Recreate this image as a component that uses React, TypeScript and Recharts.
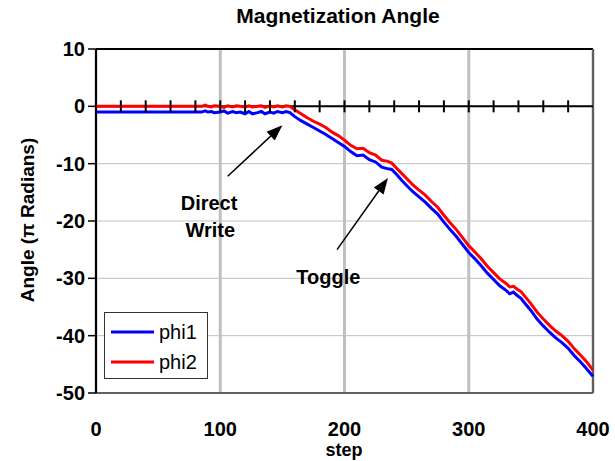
import React from "react"
import {
  ComposedChart,
  Line,
  Scatter,
  XAxis,
  YAxis,
  CartesianGrid,
  ReferenceLine,
  ReferenceDot,
  Legend,
} from "recharts"

const steps = [
  0, 20, 40, 60, 80, 85, 88, 90, 93, 95, 100, 103, 106, 110, 113, 116, 120, 123, 126, 130,
  133, 136, 140, 143, 146, 150, 153, 156, 160, 165, 170, 175, 180, 185, 190, 195, 200, 205, 210, 215,
  220, 225, 230, 235, 238, 242, 246, 250, 255, 260, 265, 270, 275, 280, 285, 290, 295, 300, 305, 310,
  315, 320, 325, 330, 333, 336, 339, 342, 345, 350, 355, 360, 365, 370, 375, 380, 385, 390, 395, 400,
]

const phi1 = [
  -1, -1, -1, -1, -1, -1, -0.8, -1, -0.9, -1.1, -1, -0.8, -1.2, -0.9, -1.1, -1, -1.3, -0.9, -1.3, -1.1,
  -0.9, -1.3, -1, -1.2, -0.9, -1.1, -0.9, -1.1, -1.8, -2.5, -3.1, -3.7, -4.3, -4.9, -5.6, -6.3, -7.0, -7.9, -8.6, -8.5,
  -9.3, -9.7, -10.6, -10.9, -11.0, -11.9, -12.9, -13.8, -14.9, -15.8, -16.7, -17.8, -18.8, -20.2, -21.5, -22.7, -24.1, -25.5, -26.6, -27.8,
  -29.1, -30.2, -31.3, -32.1, -32.7, -32.4, -33.0, -33.5, -34.3, -35.6, -37.1, -38.3, -39.4, -40.4, -41.2, -42.2, -43.5, -44.6, -45.8, -47.1,
]

const phi2 = [
  0, 0, 0, 0, 0, 0, 0.2, 0, -0.1, 0.1, 0, -0.2, 0.1, -0.1, 0.1, 0, -0.1, 0.1, -0.1, 0,
  0.1, -0.2, 0.1, -0.1, 0.1, -0.1, 0.1, 0, -0.6, -1.3, -2.0, -2.6, -3.1, -3.7, -4.5, -5.1, -5.9, -6.8, -7.4, -7.3,
  -8.1, -8.5, -9.4, -9.6, -9.9, -10.8, -11.7, -12.6, -13.7, -14.6, -15.5, -16.6, -17.6, -19.0, -20.3, -21.5, -22.9, -24.3, -25.4, -26.6,
  -27.9, -29.0, -30.1, -30.9, -31.5, -31.4, -31.9, -32.3, -33.1, -34.4, -35.9, -37.1, -38.2, -39.2, -40.0, -41.0, -42.3, -43.4, -44.6, -46.0,
]

const xTicks = [0, 100, 200, 300, 400]
const yTicks = [10, 0, -10, -20, -30, -40, -50]
const zeroTicks = [20, 40, 60, 80, 100, 120, 140, 160, 180, 200, 220, 240, 260, 280, 300, 320, 340, 360, 380]

const series = [
  { key: "phi1", color: "#0000ff" },
  { key: "phi2", color: "#ff0000" },
]

const arrows = [
  { from: { x: 106, y: -12.2 }, to: { x: 150, y: -3.3 } },
  { from: { x: 194, y: -25 }, to: { x: 235, y: -12.5 } },
]

const notes = [
  { text: "Direct", x: 91, y: -16.8 },
  { text: "Write", x: 92, y: -21.5 },
  { text: "Toggle", x: 187, y: -29.7 },
]

const data = steps.map((step, i) => ({ step, phi1: phi1[i], phi2: phi2[i] }))
const tickRows = zeroTicks.map((step) => ({ step, mark: 0 }))

const font = "Arial, 'Liberation Sans', sans-serif"

function Arrow(props: any) {
  const { x1, y1, x2, y2 } = props
  const dx = x2 - x1
  const dy = y2 - y1
  const len = Math.hypot(dx, dy)
  const ux = dx / len
  const uy = dy / len
  const head = 16
  const half = 6
  const bx = x2 - ux * head
  const by = y2 - uy * head
  const px = -uy * half
  const py = ux * half
  return (
    <g>
      <line x1={x1} y1={y1} x2={bx} y2={by} stroke="#000" strokeWidth={1.5} />
      <polygon points={`${x2},${y2} ${bx + px},${by + py} ${bx - px},${by - py}`} fill="#000" />
    </g>
  )
}

function ZeroTick(props: any) {
  const { cx, cy } = props
  return <line x1={cx} x2={cx} y1={cy - 6} y2={cy + 6} stroke="#000" strokeWidth={2} />
}

function Note(text: string) {
  return (props: any) => (
    <text x={props.cx} y={props.cy} textAnchor="middle" dominantBaseline="central" fontFamily={font} fontWeight="bold" fontSize={20} fill="#000">
      {text}
    </text>
  )
}

function YLabel() {
  return (
    <text x={27} y={220} transform="rotate(-90 27 220)" textAnchor="middle" dominantBaseline="central" fontFamily={font} fontWeight="bold" fontSize={19} fill="#000">
      Angle (π Radians)
    </text>
  )
}

function XLabel() {
  return (
    <text x={344} y={450} textAnchor="middle" dominantBaseline="central" fontFamily={font} fontWeight="bold" fontSize={18} fill="#000">
      step
    </text>
  )
}

function LegendBox() {
  return (
    <div style={{ width: 104, height: 67, border: "1px solid #333", background: "#fff", boxSizing: "border-box", fontFamily: font, fontSize: 20, paddingTop: 4 }}>
      {series.map((s) => (
        <div key={s.key} style={{ display: "flex", alignItems: "center", height: 30 }}>
          <svg width={54} height={10}>
            <line x1={6} x2={49} y1={5} y2={5} stroke={s.color} strokeWidth={3} />
          </svg>
          <span style={{ color: "#000" }}>{s.key}</span>
        </div>
      ))}
    </div>
  )
}

export default function App() {
  return (
    <div style={{ position: "absolute", left: 0, top: 0, width: 615, height: 461, background: "#fff" }}>
      <div style={{ position: "absolute", top: 4, left: 188, width: 300, textAlign: "center", fontFamily: font, fontWeight: "bold", fontSize: 21 }}>
        Magnetization Angle
      </div>
      <ComposedChart width={615} height={461} data={data} margin={{ top: 49, right: 22, left: 36, bottom: 8 }}>
        <CartesianGrid horizontal={true} vertical={false} stroke="#c0c0c0" strokeWidth={1} />
        <CartesianGrid horizontal={false} vertical={true} stroke="#c0c0c0" strokeWidth={3} />
        <XAxis
          dataKey="step"
          type="number"
          domain={[0, 400]}
          ticks={xTicks}
          tickLine={false}
          tickSize={0}
          tickMargin={29}
          height={60}
          axisLine={{ stroke: "#606060", strokeWidth: 2 }}
          tick={{ fill: "#000", fontFamily: font, fontWeight: "bold", fontSize: 20 }}
          label={<XLabel />}
        />
        <YAxis
          type="number"
          domain={[-50, 10]}
          ticks={yTicks}
          width={60}
          tickSize={8}
          tickMargin={3}
          axisLine={{ stroke: "#000", strokeWidth: 2 }}
          tickLine={{ stroke: "#000", strokeWidth: 1.5 }}
          tick={{ fill: "#000", fontFamily: font, fontWeight: "bold", fontSize: 20 }}
          label={<YLabel />}
        />
        <ReferenceLine y={10} stroke="#000" strokeWidth={2} />
        <ReferenceLine x={400} stroke="#606060" strokeWidth={2} />
        <ReferenceLine y={0} stroke="#000" strokeWidth={2} />
        <Scatter data={tickRows} dataKey="mark" shape={<ZeroTick />} isAnimationActive={false} legendType="none" />
        {series.map((s) => (
          <Line key={s.key} type="linear" dataKey={s.key} stroke={s.color} strokeWidth={3} dot={false} isAnimationActive={false} />
        ))}
        {arrows.map((a, i) => (
          <ReferenceLine key={i} segment={[a.from, a.to]} shape={Arrow} />
        ))}
        {notes.map((n) => (
          <ReferenceDot key={n.text} x={n.x} y={n.y} r={0} shape={Note(n.text)} />
        ))}
        <Legend
          layout="vertical"
          align="center"
          verticalAlign="middle"
          content={<LegendBox />}
          wrapperStyle={{ left: 104, top: 312, width: 104, height: 67 }}
        />
      </ComposedChart>
    </div>
  )
}
